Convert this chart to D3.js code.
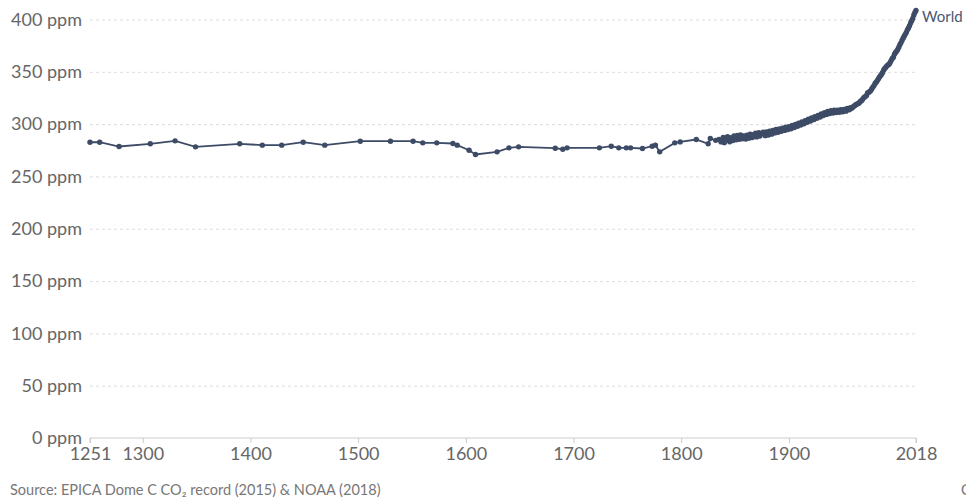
<!DOCTYPE html>
<html>
<head>
<meta charset="utf-8">
<script src="https://cdn.jsdelivr.net/npm/d3@7"></script>
<style>
  body { margin: 0; background: #fff; }
  text { font-family: Lato, "Open Sans", sans-serif; }
</style>
</head>
<body>
<div id="chart"></div>
<script>
// CO2 concentration, World (ppm)
var years = [1251, 1260, 1278, 1307, 1330, 1349, 1390, 1411, 1429, 1449, 1469, 1502, 1530, 1551, 1560, 1573,
  1588, 1592, 1603, 1609, 1629, 1640, 1649, 1683, 1690, 1694, 1724, 1735, 1742, 1749, 1753, 1764, 1773, 1776,
  1780, 1794, 1799, 1814, 1825, 1827, 1832, 1835,
  1837, 1839, 1840, 1842, 1843, 1845, 1846, 1848, 1849, 1851, 1852, 1854, 1855, 1857, 1858, 1860, 1861, 1863,
  1864, 1866, 1867, 1869, 1870, 1872, 1873, 1875, 1876, 1878, 1879, 1881, 1882, 1884, 1885, 1887, 1888, 1890,
  1891, 1893, 1894, 1896, 1897, 1899, 1900, 1902, 1903, 1905, 1906, 1908, 1909, 1911, 1912, 1914, 1915, 1917,
  1918, 1920, 1921, 1923, 1924, 1926, 1927, 1929, 1930, 1932, 1933, 1935, 1936, 1938, 1939, 1941, 1942, 1944,
  1945, 1947, 1948, 1950, 1951, 1953, 1954, 1956, 1957, 1958,
  1959, 1960, 1961, 1962, 1963, 1964, 1965, 1966, 1967, 1968, 1969, 1970, 1971, 1972, 1973, 1974, 1975, 1976,
  1977, 1978, 1979, 1980, 1981, 1982, 1983, 1984, 1985, 1986, 1987, 1988, 1989, 1990, 1991, 1992, 1993, 1994,
  1995, 1996, 1997, 1998, 1999, 2000, 2001, 2002, 2003, 2004, 2005, 2006, 2007, 2008, 2009, 2010, 2011, 2012,
  2013, 2014, 2015, 2016, 2017, 2018];

var co2 = [282.7, 282.7, 278.6, 281.2, 284.0, 278.3, 281.2, 279.9, 279.9, 282.7, 279.9, 283.7, 283.7, 283.7, 282.1, 282.1,
  281.5, 279.9, 275.0, 271.0, 273.5, 277.3, 278.3, 277.0, 276.0, 277.3, 277.3, 278.9, 277.3, 277.3, 277.3, 276.7, 278.9, 279.9,
  273.5, 282.1, 283.0, 285.3, 281.2, 286.3, 284.5, 285.3,
  283.0, 287.2, 282.3, 285.6, 288.0, 283.2, 287.0, 284.4, 288.6, 285.0, 289.1, 285.6, 289.6, 286.0, 288.8, 285.8, 289.4, 286.6,
  290.3, 287.2, 289.8, 291.4, 287.8, 291.9, 288.6, 290.9, 292.3, 289.0, 292.6, 289.6, 293.2, 290.4, 293.9, 291.6, 294.8, 292.2,
  295.4, 293.1, 296.2, 294.0, 297.0, 294.9, 297.6, 295.6, 298.7, 296.8, 299.6, 298.0, 300.9, 299.2, 302.1, 300.4, 303.3, 301.7,
  304.6, 303.0, 305.8, 304.3, 307.1, 305.6, 308.4, 306.8, 309.7, 308.2, 310.9, 309.3, 312.0, 310.2, 312.8, 310.6, 313.2, 311.0,
  313.4, 311.3, 313.8, 311.8, 314.0, 312.4, 314.9, 313.7, 315.6, 315.0,
  315.98, 316.91, 317.64, 318.45, 318.99, 319.62, 320.04, 321.37, 322.18, 323.05, 324.62, 325.68, 326.32, 327.46, 329.68, 330.19, 331.12, 332.03,
  333.84, 335.41, 336.84, 338.76, 340.12, 341.48, 343.15, 344.85, 346.35, 347.61, 349.31, 351.69, 353.20, 354.45, 355.70, 356.54, 357.21, 358.96,
  360.97, 362.74, 363.88, 366.84, 368.54, 369.71, 371.32, 373.45, 375.98, 377.70, 379.98, 382.09, 384.02, 385.83, 387.64, 390.10, 391.85, 394.06,
  396.74, 398.81, 401.01, 404.41, 406.76, 408.72];

var yTicks = [0, 50, 100, 150, 200, 250, 300, 350, 400];
var xTicks = [1251, 1300, 1400, 1500, 1600, 1700, 1800, 1900, 2018];
var seriesName = "World";
var sourceText = "Source: EPICA Dome C CO\u2082 record (2015) & NOAA (2018)";

var svgWidth = 966;
var svgHeight = 502;
var margin = { top: 19.5, right: 50, bottom: 64, left: 90 };
var width = svgWidth - margin.left - margin.right;
var height = svgHeight - margin.top - margin.bottom;

var data = years.map(function (y, i) { return { year: y, value: co2[i] }; });

var svg = d3.select("#chart")
  .append("svg")
  .attr("width", svgWidth)
  .attr("height", svgHeight);

var chartGroup = svg.append("g")
  .attr("transform", `translate(${margin.left}, ${margin.top})`);

var xScale = d3.scaleLinear()
  .domain([1251, 2018])
  .range([0, width]);

var yScale = d3.scaleLinear()
  .domain([0, 400])
  .range([height, 0]);

// grid + y labels
var leftAxis = d3.axisLeft(yScale)
  .tickValues(yTicks)
  .tickSize(-width)
  .tickPadding(8)
  .tickFormat(d => d + " ppm");

var yAxisG = chartGroup.append("g").call(leftAxis);
yAxisG.select(".domain").remove();
yAxisG.selectAll(".tick line")
  .attr("stroke", "#dddddd")
  .attr("stroke-dasharray", "3,3")
  .filter(d => d === 0).remove();
yAxisG.selectAll(".tick text")
  .attr("fill", "#666")
  .style("font-size", "18px");

// x axis
var bottomAxis = d3.axisBottom(xScale)
  .tickValues(xTicks)
  .tickSize(5)
  .tickPadding(4)
  .tickFormat(d3.format("d"));

var xAxisG = chartGroup.append("g")
  .attr("transform", `translate(0, ${height})`)
  .call(bottomAxis);
xAxisG.select(".domain").attr("stroke", "#cccccc").attr("d", `M0,5V0H${width}V5`);
xAxisG.selectAll(".tick line").attr("stroke", "#cccccc");
xAxisG.selectAll(".tick text")
  .attr("fill", "#666")
  .style("font-size", "18px");

var line = d3.line()
  .x(d => xScale(d.year))
  .y(d => yScale(d.value));

var color = "#3d4b66";

chartGroup.append("path")
  .datum(data)
  .attr("fill", "none")
  .attr("stroke", color)
  .attr("stroke-width", 1.8)
  .attr("d", line);

chartGroup.selectAll("circle")
  .data(data)
  .enter()
  .append("circle")
  .attr("cx", d => xScale(d.year))
  .attr("cy", d => yScale(d.value))
  .attr("r", 2.7)
  .attr("fill", color);

var last = data[data.length - 1];
chartGroup.append("text")
  .attr("x", xScale(last.year) + 6)
  .attr("y", yScale(last.value) + 12)
  .attr("font-size", "15px")
  .attr("fill", "#4a5772")
  .text(seriesName);

svg.append("text")
  .attr("x", 10)
  .attr("y", 495)
  .attr("font-size", "14.5px")
  .attr("fill", "#777")
  .text(sourceText);

svg.append("text")
  .attr("x", 961)
  .attr("y", 495)
  .attr("font-size", "14.5px")
  .attr("fill", "#777")
  .text("CC BY");
</script>
</body>
</html>
